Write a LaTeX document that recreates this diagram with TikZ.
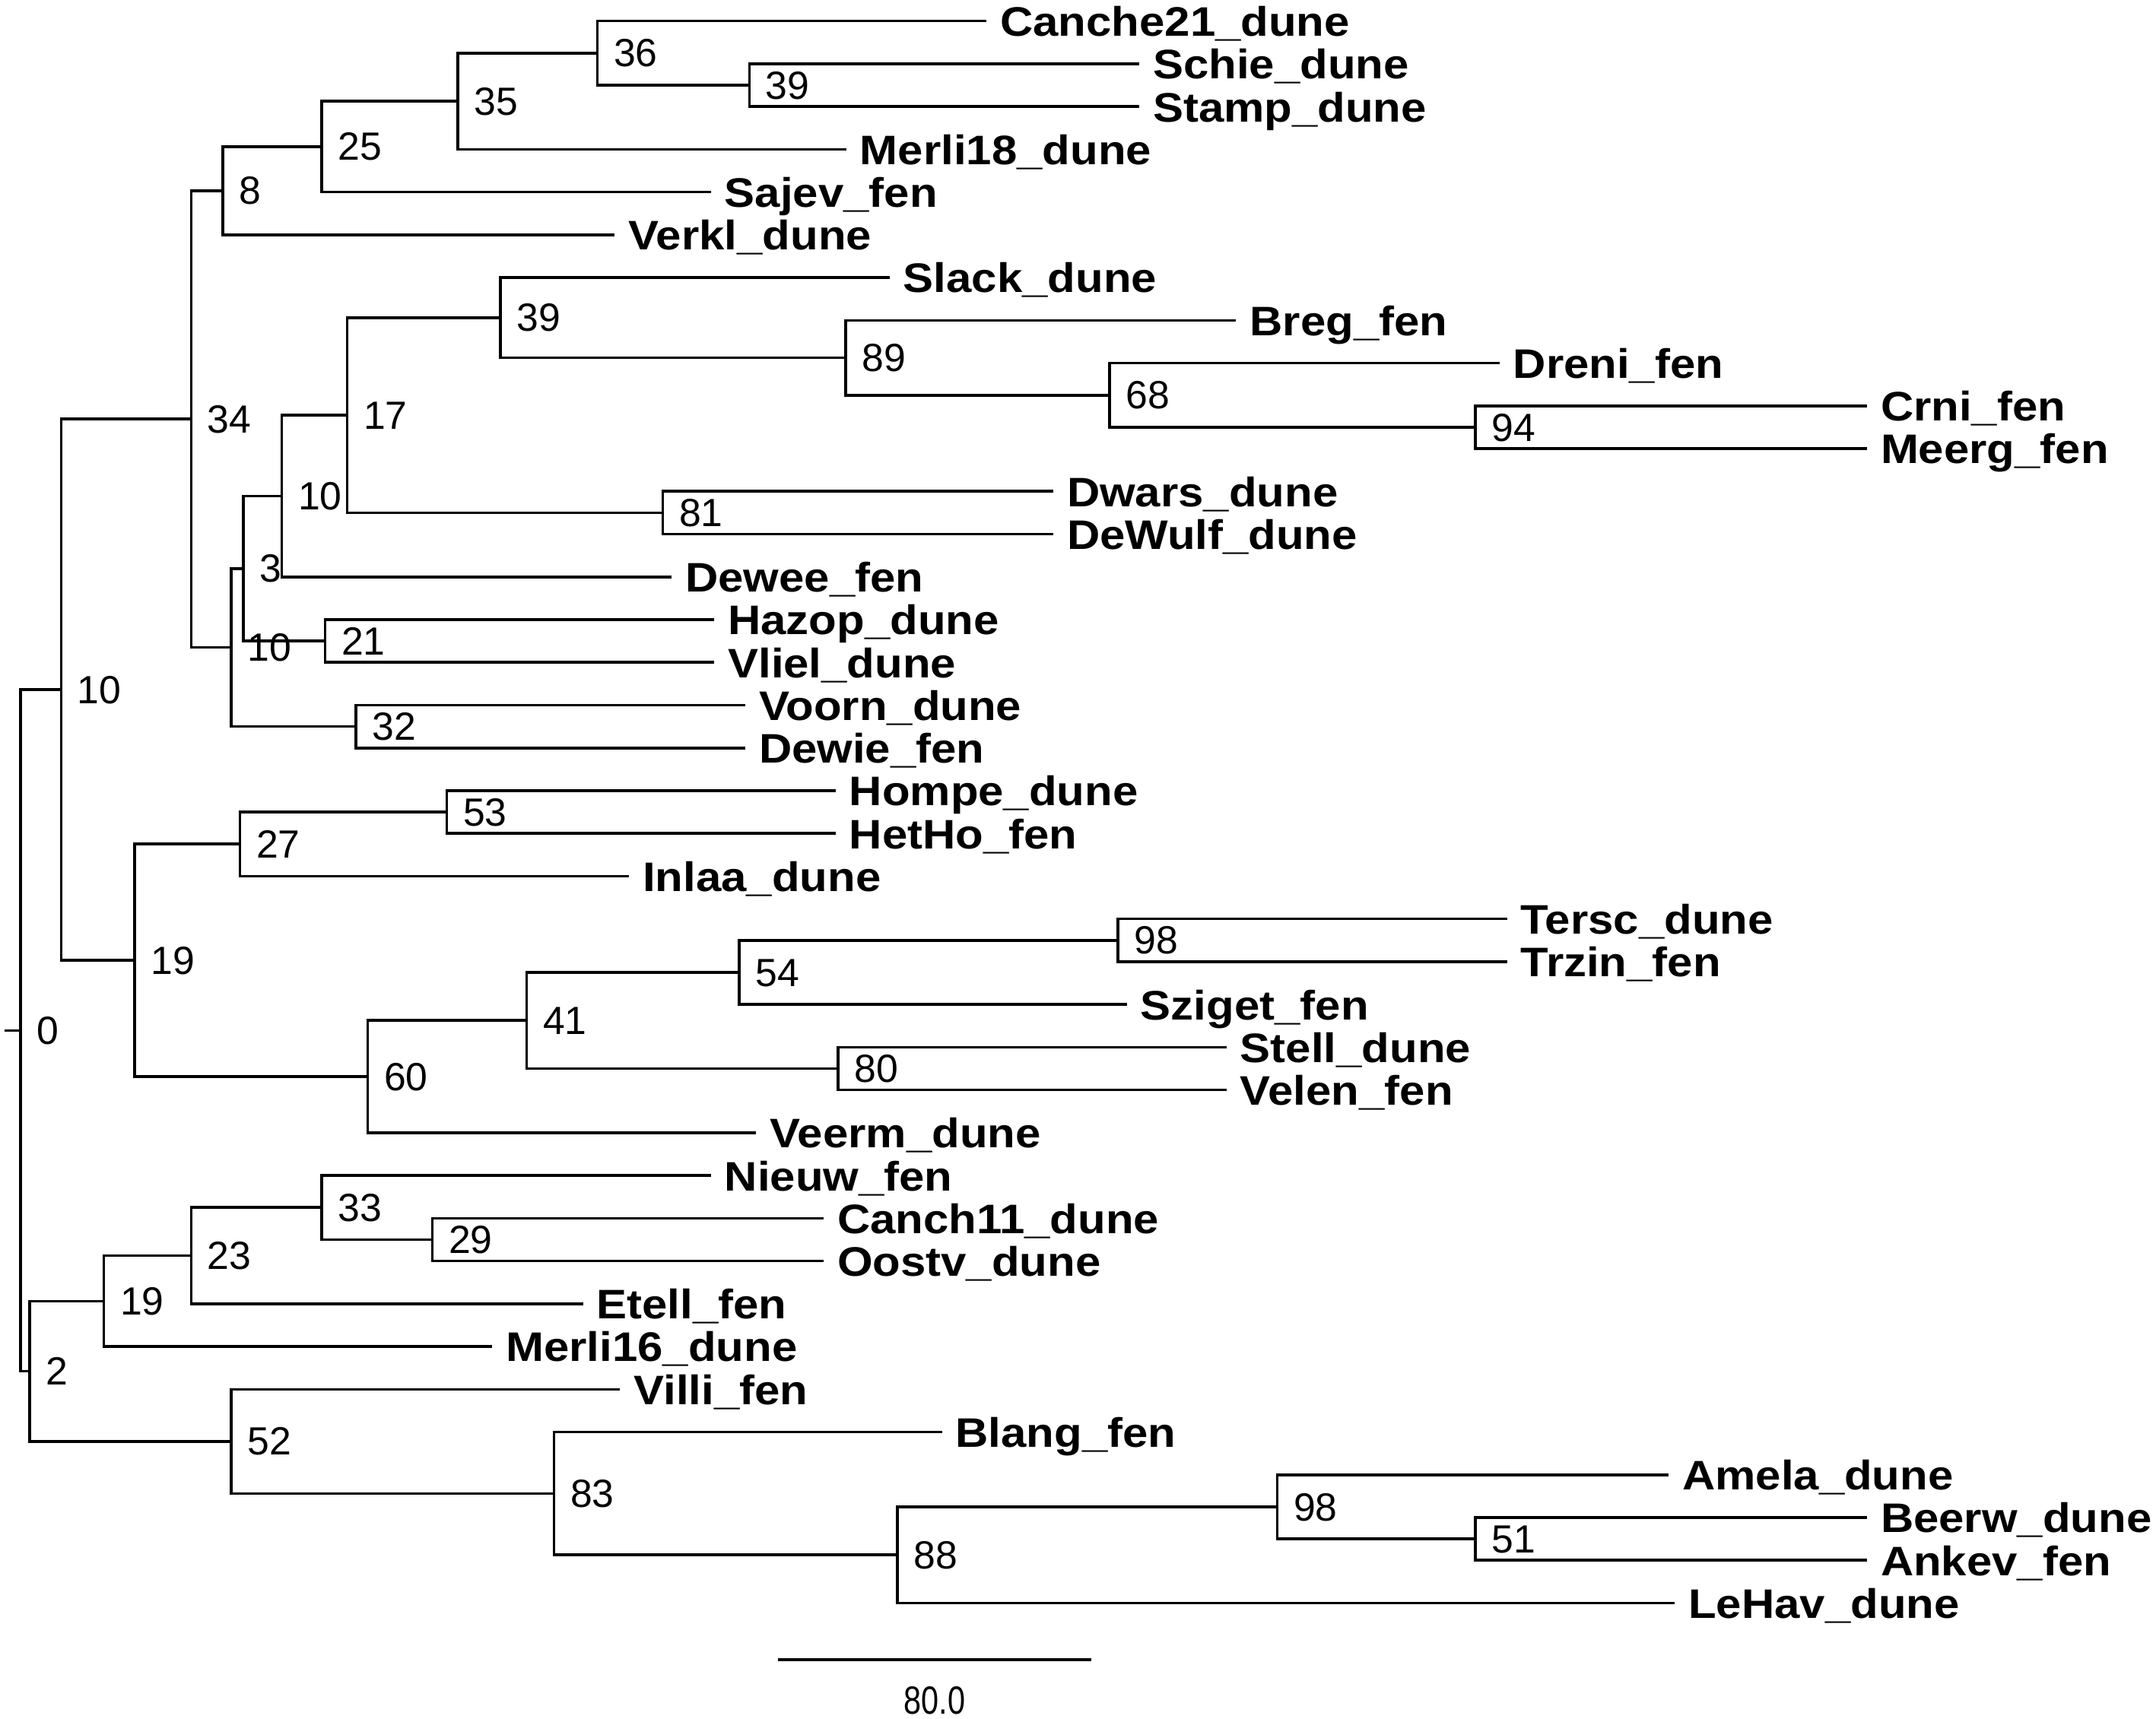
\documentclass[tikz,border=0pt]{standalone}
\usepackage{fontspec}
\setmainfont{Liberation Sans}
\newfontfamily\leaffont[FakeStretch=1.105]{Liberation Sans}
\newfontfamily\barfont[FakeStretch=0.8]{Liberation Sans}
\usetikzlibrary{calc}
\newcommand\mkleaf[4]{%
  \coordinate (#1) at (#2,{15.3+31.105*#3});
  \node[leaf] (#1-lab) at ($(#1)+(9.6,11)$) {#4};
}
\tikzset{
  br/.style={line width=1pt},
  leaf/.style={anchor=base west, inner sep=0pt, font=\leaffont\bfseries\fontsize{15pt}{18pt}\selectfont},
  blab/.style={anchor=base west, inner sep=0pt, font=\fontsize{14.3pt}{17pt}\selectfont},
  sblab/.style={anchor=base, inner sep=0pt, font=\barfont\fontsize{14.3pt}{17pt}\selectfont}
}
\begin{document}
\begin{tikzpicture}[x=0.5pt,y=-0.5pt]
\fill[white] (0,0) rectangle (1568,1250.4);
\useasboundingbox (0,0) rectangle (1568,1250.4);
% leaves
\mkleaf{L0}{717.4}{0}{Canche21\_dune}
\mkleaf{L1}{828.6}{1}{Schie\_dune}
\mkleaf{L2}{828.6}{2}{Stamp\_dune}
\mkleaf{L3}{615.5}{3}{Merli18\_dune}
\mkleaf{L4}{517}{4}{Sajev\_fen}
\mkleaf{L5}{447}{5}{Verkl\_dune}
\mkleaf{L6}{647}{6}{Slack\_dune}
\mkleaf{L7}{899}{7}{Breg\_fen}
\mkleaf{L8}{1090.5}{8}{Dreni\_fen}
\mkleaf{L9}{1357.8}{9}{Crni\_fen}
\mkleaf{L10}{1357.8}{10}{Meerg\_fen}
\mkleaf{L11}{766}{11}{Dwars\_dune}
\mkleaf{L12}{766}{12}{DeWulf\_dune}
\mkleaf{L13}{488.4}{13}{Dewee\_fen}
\mkleaf{L14}{519.5}{14}{Hazop\_dune}
\mkleaf{L15}{519.5}{15}{Vliel\_dune}
\mkleaf{L16}{542}{16}{Voorn\_dune}
\mkleaf{L17}{542}{17}{Dewie\_fen}
\mkleaf{L18}{607.7}{18}{Hompe\_dune}
\mkleaf{L19}{607.7}{19}{HetHo\_fen}
\mkleaf{L20}{457.5}{20}{Inlaa\_dune}
\mkleaf{L21}{1096}{21}{Tersc\_dune}
\mkleaf{L22}{1096}{22}{Trzin\_fen}
\mkleaf{L23}{819.6}{23}{Sziget\_fen}
\mkleaf{L24}{892}{24}{Stell\_dune}
\mkleaf{L25}{892}{25}{Velen\_fen}
\mkleaf{L26}{549.8}{26}{Veerm\_dune}
\mkleaf{L27}{517}{27}{Nieuw\_fen}
\mkleaf{L28}{599}{28}{Canch11\_dune}
\mkleaf{L29}{599}{29}{Oostv\_dune}
\mkleaf{L30}{424}{30}{Etell\_fen}
\mkleaf{L31}{358}{31}{Merli16\_dune}
\mkleaf{L32}{451}{32}{Villi\_fen}
\mkleaf{L33}{685}{33}{Blang\_fen}
\mkleaf{L34}{1213.5}{34}{Amela\_dune}
\mkleaf{L35}{1357.8}{35}{Beerw\_dune}
\mkleaf{L36}{1357.8}{36}{Ankev\_fen}
\mkleaf{L37}{1218}{37}{LeHav\_dune}
% internal nodes
\coordinate (n39a) at (545,61.96);
\coordinate (n36) at (434.5,38.63);
\coordinate (n35) at (333,73.62);
\coordinate (n25) at (234,106.67);
\coordinate (n8) at (162,138.75);
\coordinate (n94) at (1073,310.80);
\coordinate (n68) at (807,287.47);
\coordinate (n89) at (615,260.26);
\coordinate (n39b) at (364,231.09);
\coordinate (n81) at (482,373.01);
\coordinate (n17) at (252.5,302.05);
\coordinate (n10b) at (205,360.86);
\coordinate (n21) at (236.5,466.32);
\coordinate (n3) at (177,413.59);
\coordinate (n32) at (259,528.53);
\coordinate (n10c) at (168,471.06);
\coordinate (n34) at (139,304.90);
\coordinate (n53) at (325,590.74);
\coordinate (n27) at (174.5,614.07);
\coordinate (n98a) at (813,684.06);
\coordinate (n54) at (537.5,707.39);
\coordinate (n80) at (609.5,777.37);
\coordinate (n41) at (383,742.38);
\coordinate (n60) at (267.5,783.21);
\coordinate (n19a) at (98,698.64);
\coordinate (n10a) at (44.5,501.78);
\coordinate (n29) at (314.5,901.79);
\coordinate (n33) at (234,878.46);
\coordinate (n23) at (139,913.45);
\coordinate (n19b) at (75.5,946.50);
\coordinate (n51) at (1073,1119.53);
\coordinate (n98b) at (929,1096.20);
\coordinate (n88) at (652.5,1131.19);
\coordinate (n83) at (403,1086.48);
\coordinate (n52) at (168,1048.58);
\coordinate (n2) at (21.5,997.53);
\coordinate (n0) at (15,749.65);
\coordinate (stub) at (3.5,749.65);
% branches
\draw[br] (stub) -- (n0);
\foreach \p/\c in {n0/n10a,n0/n2,n10a/n34,n10a/n19a,n34/n8,n34/n10c,n8/n25,n8/L5,
  n25/n35,n25/L4,n35/n36,n35/L3,n36/L0,n36/n39a,n39a/L1,n39a/L2,n10c/n3,n10c/n32,
  n3/n10b,n3/n21,n10b/n17,n10b/L13,n17/n39b,n17/n81,n39b/L6,n39b/n89,n89/L7,n89/n68,
  n68/L8,n68/n94,n94/L9,n94/L10,n81/L11,n81/L12,n21/L14,n21/L15,n32/L16,n32/L17,
  n19a/n27,n19a/n60,n27/n53,n27/L20,n53/L18,n53/L19,n60/n41,n60/L26,n41/n54,n41/n80,
  n54/n98a,n54/L23,n98a/L21,n98a/L22,n80/L24,n80/L25,n2/n19b,n2/n52,n19b/n23,n19b/L31,
  n23/n33,n23/L30,n33/L27,n33/n29,n29/L28,n29/L29,n52/L32,n52/n83,n83/L33,n83/n88,
  n88/n98b,n88/L37,n98b/L34,n98b/n51,n51/L35,n51/L36}
  \draw[br] (\p) |- (\c);
% bootstrap labels
\foreach \n/\t in {n0/0,n2/2,n10a/10,n34/34,n8/8,n25/25,n35/35,n36/36,n39a/39,n10c/10,
  n3/3,n10b/10,n17/17,n39b/39,n89/89,n68/68,n94/94,n81/81,n21/21,n32/32,n19a/19,n27/27,
  n53/53,n60/60,n41/41,n54/54,n98a/98,n80/80,n19b/19,n23/23,n33/33,n29/29,n52/52,
  n83/83,n88/88,n98b/98,n51/51}
  \node[blab] (\n-lab) at ($(\n)+(11.5,10)$) {\t};
% scale bar
\coordinate (sbL) at (566,1207.4);
\coordinate (sbR) at (793.4,1207.4);
\draw[br] (sbL) -- (sbR);
\node[sblab] (sb-lab) at ($(sbL)!0.5!(sbR)+(0,39.3)$) {80.0};
\end{tikzpicture}
\end{document}
